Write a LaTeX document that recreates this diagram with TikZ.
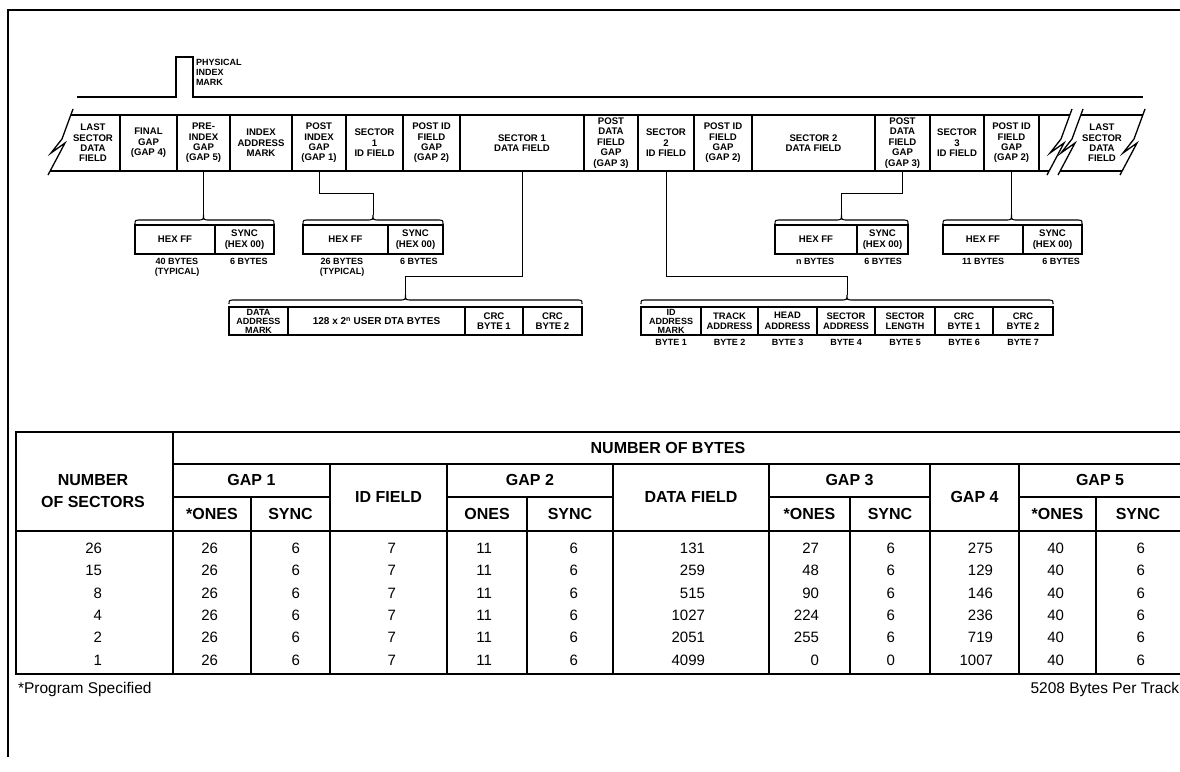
\documentclass[tikz,border=0pt]{standalone}
\usepackage{fontspec}
\setmainfont{Liberation Sans}
\newcommand\zzbolt[2]{\draw[ln] (#1,#2) -- ++(-11,30) -- ++(-11,14) -- ++(14,-10) -- ++(-17,32);}
\newcommand\hbr[5]{%
  \draw[brc] (#1,#4+4) .. controls (#1,#4) .. (#1+7,#4) -- (#2-7,#4) .. controls (#2,#4) .. (#2,#4-5)
    .. controls (#2,#4) .. (#2+7,#4) -- (#3-7,#4) .. controls (#3,#4) .. (#3,#4+4);
  \coordinate (#5) at (#2,#4-5);}
\begin{document}
\begin{tikzpicture}[x=1pt,y=-1pt,
  every node/.style={inner sep=0pt, outer sep=0pt},
  ln/.style={line width=1.3pt},
  cell/.style={draw, line width=1.3pt, minimum height=56pt, align=center, font=\fontsize{9.6}{10.4}\selectfont\bfseries},
  txt/.style={align=center, font=\fontsize{9.6}{10.4}\selectfont\bfseries},
  sub/.style={draw, line width=1.3pt, minimum height=29pt, align=center, font=\fontsize{9.6}{10.4}\selectfont\bfseries},
  fld/.style={draw, line width=1.3pt, minimum height=28pt, align=center, font=\fontsize{9}{9}\selectfont\bfseries},
  bylbl/.style={anchor=north, align=center, font=\fontsize{9}{10.5}\selectfont\bfseries},
  conn/.style={line width=0.9pt},
  brc/.style={line width=1.1pt},
  hd/.style={font=\fontsize{16}{22}\selectfont\bfseries, align=center},
  num/.style={font=\fontsize{15}{18}\selectfont, anchor=east},
  foot/.style={font=\fontsize{15.5}{18}\selectfont},
  tl/.style={line width=1.3pt}
]
\useasboundingbox (0,0) rectangle (1180,771);
\fill[white] (0,0) rectangle (1180,771);
% page border
\draw[ln] (8,757) -- (8,10) -- (1180,10);
% track line with index pulse
\draw[line width=1.5pt] (77,97) -- (176,97) -- (176,57) -- (193,57) -- (193,97) -- (1143,97);
\node[anchor=north west, align=left, font=\fontsize{9}{10}\selectfont\bfseries] (pim) at (196,59) {PHYSICAL\\INDEX\\MARK};
% strip cells
\node[cell, minimum width=57pt] (c1) at (148.5,143) {FINAL\\GAP\\(GAP 4)};
\node[cell, minimum width=53pt] (c2) at (203.5,143) {PRE-\\INDEX\\GAP\\(GAP 5)};
\node[cell, minimum width=62pt] (c3) at (261,143) {INDEX\\ADDRESS\\MARK};
\node[cell, minimum width=54pt] (c4) at (319,143) {POST\\INDEX\\GAP\\(GAP 1)};
\node[cell, minimum width=57pt] (c5) at (374.5,143) {SECTOR\\1\\ID FIELD};
\node[cell, minimum width=57pt] (c6) at (431.5,143) {POST ID\\FIELD\\GAP\\(GAP 2)};
\node[cell, minimum width=124pt] (c7) at (522,143) {SECTOR 1\\DATA FIELD};
\node[cell, minimum width=54pt] (c8) at (611,143) {POST\\DATA\\FIELD\\GAP\\(GAP 3)};
\node[cell, minimum width=56pt] (c9) at (666,143) {SECTOR\\2\\ID FIELD};
\node[cell, minimum width=58pt] (c10) at (723,143) {POST ID\\FIELD\\GAP\\(GAP 2)};
\node[cell, minimum width=123pt] (c11) at (813.5,143) {SECTOR 2\\DATA FIELD};
\node[cell, minimum width=55pt] (c12) at (902.5,143) {POST\\DATA\\FIELD\\GAP\\(GAP 3)};
\node[cell, minimum width=54pt] (c13) at (957,143) {SECTOR\\3\\ID FIELD};
\node[cell, minimum width=55pt] (c14) at (1011.5,143) {POST ID\\FIELD\\GAP\\(GAP 2)};
\node[txt] (c0) at (93,143) {LAST\\SECTOR\\DATA\\FIELD};
\node[txt] (cL) at (1102,143) {LAST\\SECTOR\\DATA\\FIELD};
% broken ends
\zzbolt{73}{109}
\zzbolt{1072}{109}
\zzbolt{1083}{109}
\zzbolt{1145}{109}
\draw[ln] (70.8,115) -- (c1.north west);
\draw[ln] (50.1,171) -- (c1.south west);
\draw[ln] (c14.north east) -- (1069.8,115);
\draw[ln] (c14.south east) -- (1049.1,171);
\draw[ln] (1080.8,115) -- (1142.8,115);
\draw[ln] (1060.1,171) -- (1122.1,171);
% gap detail boxes
\node[sub, minimum width=80pt] (g5a) at (175,239.5) {HEX FF};
\node[sub, minimum width=59pt] (g5b) at (244.5,239.5) {SYNC\\(HEX 00)};
\node[sub, minimum width=85pt] (g1a) at (345.5,239.5) {HEX FF};
\node[sub, minimum width=55pt] (g1b) at (415.5,239.5) {SYNC\\(HEX 00)};
\node[sub, minimum width=82pt] (g3a) at (816,239.5) {HEX FF};
\node[sub, minimum width=51pt] (g3b) at (882.5,239.5) {SYNC\\(HEX 00)};
\node[sub, minimum width=80pt] (g2a) at (983,239.5) {HEX FF};
\node[sub, minimum width=59pt] (g2b) at (1052.5,239.5) {SYNC\\(HEX 00)};
\hbr{135}{203.5}{274}{220}{t5}
\hbr{303}{373}{443}{220}{t1}
\hbr{775}{841.5}{908}{220}{t3}
\hbr{943}{1011.5}{1082}{220}{t2}
\node[bylbl] (l5a) at (177,258) {40 BYTES\\(TYPICAL)};
\node[bylbl] (l5b) at (249,258) {6 BYTES};
\node[bylbl] (l1a) at (342,258) {26 BYTES\\(TYPICAL)};
\node[bylbl] (l1b) at (419,258) {6 BYTES};
\node[bylbl] (l3a) at (815,258) {n BYTES};
\node[bylbl] (l3b) at (883,258) {6 BYTES};
\node[bylbl] (l2a) at (983,258) {11 BYTES};
\node[bylbl] (l2b) at (1061,258) {6 BYTES};
% data field box
\node[fld, minimum width=59pt] (d1) at (258.5,321) {DATA\\ADDRESS\\MARK};
\node[fld, minimum width=177pt, font=\fontsize{10}{11}\selectfont\bfseries] (d2) at (376.5,321) {128 x 2\textsuperscript{n} USER DTA BYTES};
\node[fld, minimum width=58pt, font=\fontsize{9.6}{10.4}\selectfont\bfseries] (d3) at (494,321) {CRC\\BYTE 1};
\node[fld, minimum width=59pt, font=\fontsize{9.6}{10.4}\selectfont\bfseries] (d4) at (552.5,321) {CRC\\BYTE 2};
\hbr{229}{405.5}{582}{300}{td}
% id field box
\node[fld, minimum width=60pt] (i1) at (671,321) {ID\\ADDRESS\\MARK};
\node[fld, minimum width=57pt, font=\fontsize{9.4}{10.4}\selectfont\bfseries] (i2) at (729.5,321) {TRACK\\ADDRESS};
\node[fld, minimum width=59pt, font=\fontsize{9.4}{10.4}\selectfont\bfseries] (i3) at (787.5,321) {HEAD\\ADDRESS};
\node[fld, minimum width=58pt, font=\fontsize{9.4}{10.4}\selectfont\bfseries] (i4) at (846,321) {SECTOR\\ADDRESS};
\node[fld, minimum width=60pt, font=\fontsize{9.4}{10.4}\selectfont\bfseries] (i5) at (905,321) {SECTOR\\LENGTH};
\node[fld, minimum width=58pt, font=\fontsize{9.4}{10.4}\selectfont\bfseries] (i6) at (964,321) {CRC\\BYTE 1};
\node[fld, minimum width=60pt, font=\fontsize{9.4}{10.4}\selectfont\bfseries] (i7) at (1023,321) {CRC\\BYTE 2};
\hbr{641}{847}{1053}{300}{ti}
\foreach \k/\x in {1/671,2/729.5,3/787.5,4/846,5/905,6/964,7/1023}
  \node[bylbl] (b\k) at (\x,339) {BYTE \k};
% connectors
\draw[conn] (c2.south) -- (t5);
\draw[conn] (c4.south) -- ++(0,22) -| (t1);
\draw[conn] (c7.south) -- ++(0,105) -| (td);
\draw[conn] (c9.south) -- ++(0,105) -| (ti);
\draw[conn] (c12.south) -- ++(0,22) -| (t3);
\draw[conn] (c14.south) -- (t2);
% table
\draw[tl] (16,432) rectangle (1190,674);
\draw[tl] (173,432) -- (173,674);
\draw[tl] (173,464) -- (1190,464);
\draw[tl] (16,531) -- (1190,531);
\foreach \x in {330,447,613,769,930,1019} \draw[tl] (\x,464) -- (\x,674);
\foreach \a/\b in {173/330,447/613,769/930,1019/1190} \draw[tl] (\a,497) -- (\b,497);
\foreach \x in {251,527,850,1096} \draw[tl] (\x,497) -- (\x,674);
\node[hd] (hn) at (93,491) {NUMBER\\OF SECTORS};
\node[hd] (hb) at (668,448) {NUMBER OF BYTES};
\node[hd] (hg1) at (251.5,480) {GAP 1};
\node[hd] (ho1) at (212,514) {*ONES};
\node[hd] (hs1) at (290.5,514) {SYNC};
\node[hd] (hid) at (388.5,497) {ID FIELD};
\node[hd] (hg2) at (530,480) {GAP 2};
\node[hd] (ho2) at (487,514) {ONES};
\node[hd] (hs2) at (570,514) {SYNC};
\node[hd] (hdf) at (691,497) {DATA FIELD};
\node[hd] (hg3) at (849.5,480) {GAP 3};
\node[hd] (ho3) at (809.5,514) {*ONES};
\node[hd] (hs3) at (890,514) {SYNC};
\node[hd] (hg4) at (974.5,497) {GAP 4};
\node[hd] (hg5) at (1100,480) {GAP 5};
\node[hd] (ho5) at (1057.5,514) {*ONES};
\node[hd] (hs5) at (1138,514) {SYNC};
\foreach \x/\a/\b/\c/\d/\e/\f [count=\k] in {102/26/15/8/4/2/1, 218/26/26/26/26/26/26, 300/6/6/6/6/6/6, 396/7/7/7/7/7/7, 492/11/11/11/11/11/11, 578/6/6/6/6/6/6, 705/131/259/515/1027/2051/4099, 819/27/48/90/224/255/0, 895/6/6/6/6/6/0, 993/275/129/146/236/719/1007, 1064/40/40/40/40/40/40, 1145/6/6/6/6/6/6}{
  \node[num] (r1c\k) at (\x,548) {\a};
  \node[num] (r2c\k) at (\x,570.5) {\b};
  \node[num] (r3c\k) at (\x,593) {\c};
  \node[num] (r4c\k) at (\x,615) {\d};
  \node[num] (r5c\k) at (\x,637.5) {\e};
  \node[num] (r6c\k) at (\x,660) {\f};
}
\node[foot, anchor=west] (fn) at (18,689) {*Program Specified};
\node[foot, anchor=east] (ft) at (1179,689) {5208 Bytes Per Track};
\end{tikzpicture}
\end{document}
